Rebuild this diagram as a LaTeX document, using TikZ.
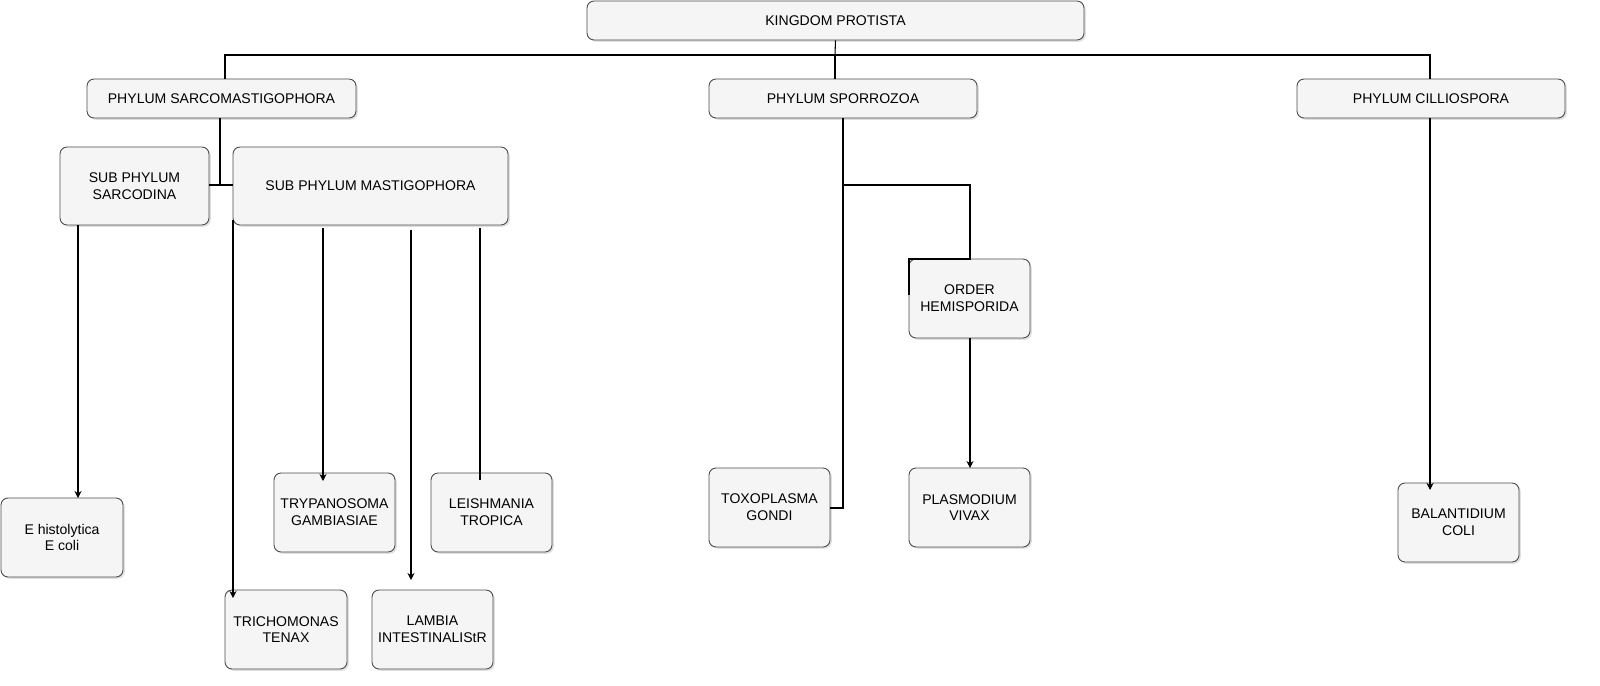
\documentclass[tikz,border=0pt]{standalone}
\usepackage{fontspec}
\setmainfont{Liberation Sans}
\usetikzlibrary{arrows.meta,shadows}
\begin{document}
\begin{tikzpicture}[x=0.02cm,y=-0.02cm,
 box/.style={draw=black!70,fill=black!4,rounded corners=4pt,line width=0.5pt,drop shadow={shadow xshift=1pt,shadow yshift=-1pt,opacity=0.25},font=\fontsize{8}{9.5}\selectfont,align=center},
 lbl/.style={font=\fontsize{8}{9.5}\selectfont,align=center},
 ln/.style={line width=0.6pt},
 ar/.style={ln,-{Stealth[length=4pt,width=4pt]}}]
\useasboundingbox (0,0) rectangle (1600,686);
\begin{scope}[overlay]
\newcommand{\bx}[5]{\node[box,minimum width={(#4-#2)*0.02cm},minimum height={(#5-#3)*0.02cm},inner sep=0pt] (#1) at ({(#2+#4)/2},{(#3+#5)/2}) {};}
\bx{k}{587}{1}{1084}{40}
\bx{sm}{87}{79}{356}{118}
\bx{sp}{709}{79}{977}{118}
\bx{ci}{1297}{79}{1565}{118}
\bx{sd}{60}{147}{209}{225}
\bx{ma}{233}{147}{508}{225}
\bx{oh}{909}{259}{1030}{338}
\bx{eh}{1}{498}{123}{577}
\bx{tr}{274}{473}{395}{552}
\bx{le}{431}{473}{552}{552}
\bx{to}{709}{468}{830}{547}
\bx{pl}{909}{468}{1030}{547}
\bx{ba}{1398}{483}{1519}{562}
\bx{tc}{225}{590}{347}{669}
\bx{la}{372}{590}{493}{669}
\node[lbl] at (k) {KINGDOM PROTISTA};
\node[lbl] at (sm) {PHYLUM SARCOMASTIGOPHORA};
\node[lbl] at (sp) {PHYLUM SPORROZOA};
\node[lbl] at (ci) {PHYLUM CILLIOSPORA};
\node[lbl] at (sd) {SUB PHYLUM\\SARCODINA};
\node[lbl] at (ma) {SUB PHYLUM MASTIGOPHORA};
\node[lbl] at (oh) {ORDER\\HEMISPORIDA};
\node[lbl] at (eh) {E histolytica\\E coli};
\node[lbl] at (tr) {TRYPANOSOMA\\GAMBIASIAE};
\node[lbl] at (le) {LEISHMANIA\\TROPICA};
\node[lbl] at (to) {TOXOPLASMA\\GONDI};
\node[lbl] at (pl) {PLASMODIUM\\VIVAX};
\node[lbl] at (ba) {BALANTIDIUM\\COLI};
\node[lbl] at (tc) {TRICHOMONAS\\TENAX};
\node[lbl] at (la) {LAMBIA\\INTESTINALIStR};
\coordinate (j) at (835,55);
\draw[ln] (k.south) -- (j);
\draw[ln] (225,79) |- (1430,55) -- (1430,79);
\draw[ln] (j) -- (sp.north -| j);
\draw[ln] (220,118) -- (220,185);
\draw[ln] (sd.east |- 0,185) -- (ma.west |- 0,185);
\draw[ar] (78,225) -- (78,498);
\draw[ar] (233,220) -- (233,598);
\draw[ar] (323,228) -- (323,481);
\draw[ar] (411,230) -- (411,580);
\draw[ln] (480,228) -- (480,480);
\draw[ln] (843,118) -- (843,508) -- (830,508);
\draw[ln] (843,185) -- (970,185) -- (970,259) -- (909,259) -- (909,295);
\draw[ar] (970,338) -- (970,468);
\draw[ar] (1430,118) -- (1430,490);
\end{scope}
\end{tikzpicture}
\end{document}
